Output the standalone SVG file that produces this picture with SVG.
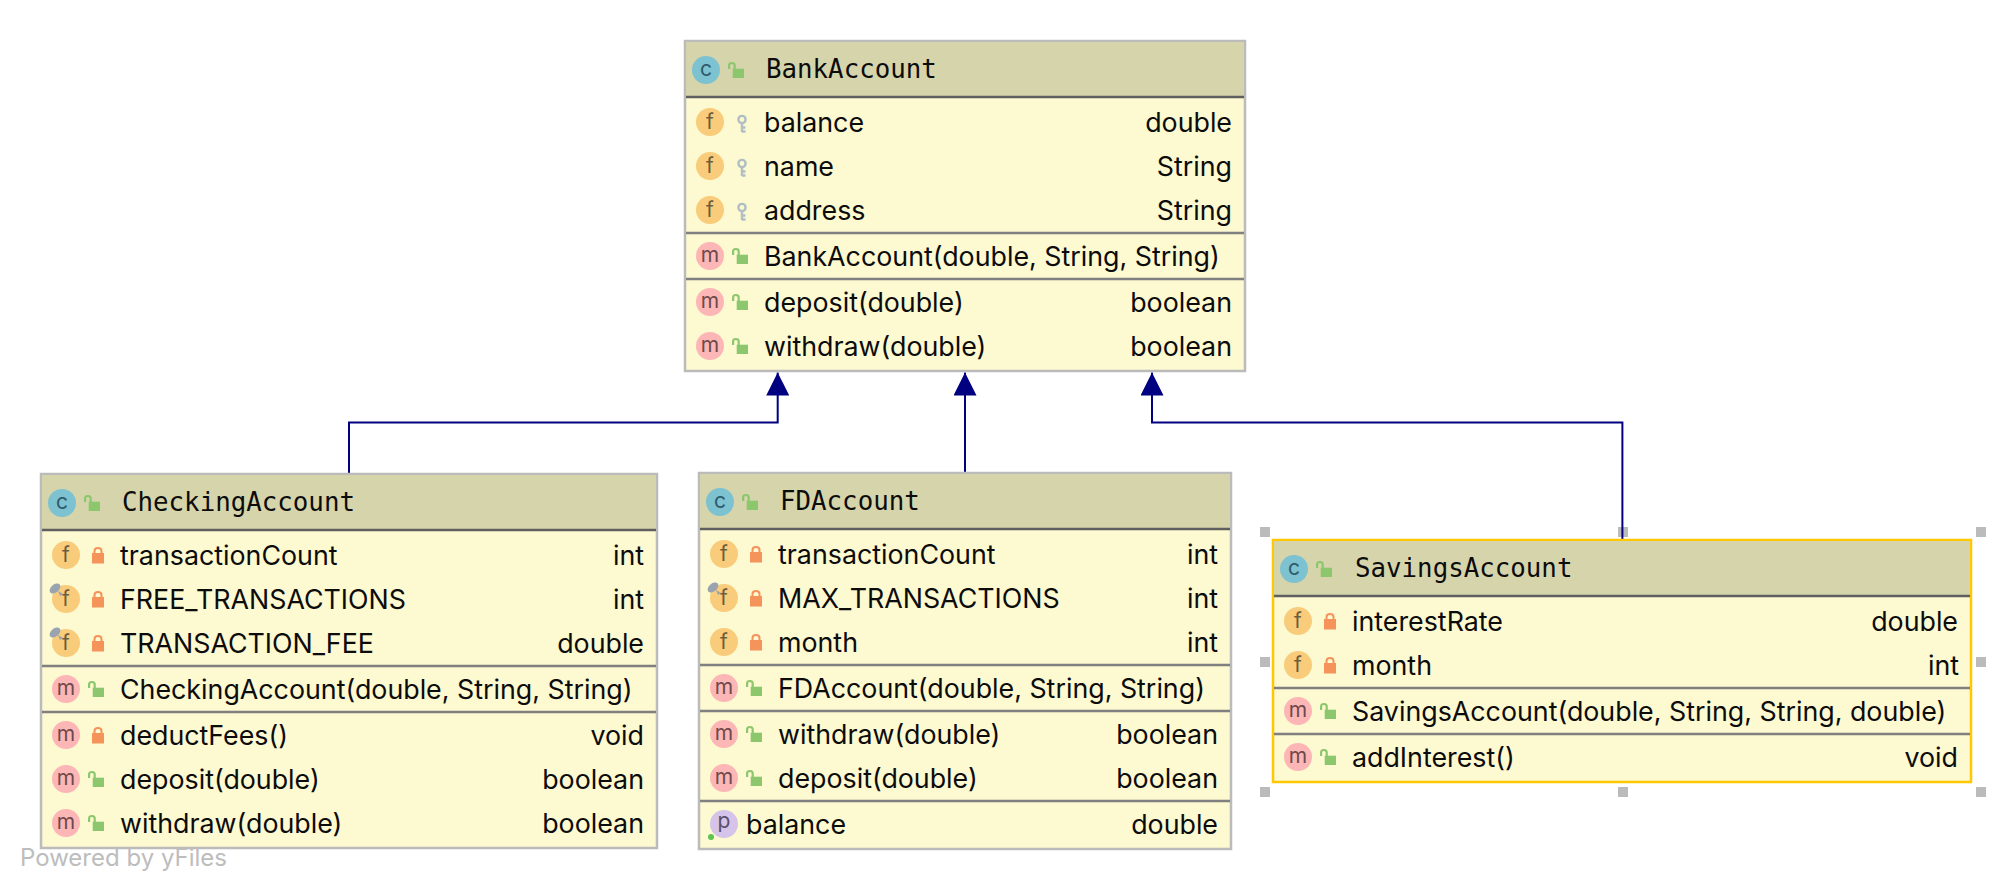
<svg xmlns="http://www.w3.org/2000/svg" width="2012" height="890" viewBox="0 0 2012 890">
<style>
text{font-family:Inter,"Liberation Sans",sans-serif;font-size:26.8px;fill:#0c0c0c}
.t{font-family:"DejaVu Sans Mono","Liberation Mono",monospace;font-size:25.8px}
.r{text-anchor:end}
.w{font-size:24px;fill:#bdbdbd}
.box{fill:#fdf9d1;stroke:#bbbbbb;stroke-width:2.5}
.sel{stroke:#ffc800}
.hd{fill:#d6d4ab}
.d1{stroke:#5f5f5f;stroke-width:2.5}
.d2{stroke:#808080;stroke-width:2.5}
.ic{font-size:21px;text-anchor:middle}
.cc{fill:#2f5a68}
.cf{fill:#6c5d3c}
.cm{fill:#6c4a4d}
.cp{fill:#5b5068}
.edge{fill:none;stroke:#000080;stroke-width:2}
.h{fill:#bbbbbb}
</style>
<defs>
<marker id="tri" markerUnits="userSpaceOnUse" markerWidth="23" markerHeight="23" refX="23" refY="11.5" orient="auto"><path d="M0 0L23 11.500L0 23Z" fill="#000080"/></marker>
<g id="ol"><rect x="4.700" y="6.700" width="11.300" height="9.300" fill="#8cc66d"/><path d="M1.100 7V3.500Q1.100 1 3.900 1T6.700 3.500V7" fill="none" stroke="#8cc66d" stroke-width="2.200"/></g>
<g id="cl"><rect x="-6" y="-2" width="12" height="10.500" fill="#f4935a"/><path d="M-3.500 -2V-4Q-3.500 -7 0 -7T3.500 -4V-2" fill="none" stroke="#f4935a" stroke-width="2"/></g>
<g id="key" fill="none" stroke="#b0bec5" stroke-width="2.400"><circle cx="0" cy="-4.500" r="3.600"/><path d="M0 -1V8M0 3.500H3.500M0 7.500H3.500"/></g>
<circle id="cf" r="14" fill="#f8cc7a"/>
<circle id="cm" r="14" fill="#fdb6b6"/>
<circle id="cc" r="14" fill="#7cc2d0"/>
<g id="pin"><ellipse cx="-11" cy="-10.500" rx="6.200" ry="4" transform="rotate(-40 -11 -10.500)" fill="#9aa4b0"/><path d="M-8 -8L-3 -5L-6 -3Z" fill="#9aa4b0"/></g>
</defs>
<g id="selection-handles">
<rect class="h" x="1260" y="527" width="10" height="10"/><rect class="h" x="1618" y="527" width="10" height="10"/><rect class="h" x="1976" y="527" width="10" height="10"/>
<rect class="h" x="1260" y="657" width="10" height="10"/><rect class="h" x="1976" y="657" width="10" height="10"/>
<rect class="h" x="1260" y="787" width="10" height="10"/><rect class="h" x="1618" y="787" width="10" height="10"/><rect class="h" x="1976" y="787" width="10" height="10"/>
</g>
<g id="connectors">
<path class="edge" marker-end="url(#tri)" d="M349 474V422.500H777.700V372.500"/>
<path class="edge" marker-end="url(#tri)" d="M965 473V372.500"/>
<path class="edge" marker-end="url(#tri)" d="M1622.400 540V422.500H1152V372.500"/>
</g>
<g id="BankAccount">
<rect class="box" x="685" y="41" width="560" height="330"/>
<rect class="hd" x="686" y="42" width="558" height="55"/>
<path class="d1" d="M686 97H1244"/><path class="d2" d="M686 233H1244M686 279H1244"/>
<use href="#cc" x="706" y="70"/><text class="ic cc" x="706" y="76">c</text><use href="#ol" x="728" y="62"/>
<text class="t" x="766" y="78">BankAccount</text>
<use href="#cf" x="710" y="122"/><text class="ic cf" x="710" y="129">f</text><use href="#key" x="742" y="124"/><text x="764" y="132">balance</text><text class="r" x="1232" y="132">double</text>
<use href="#cf" x="710" y="166"/><text class="ic cf" x="710" y="173">f</text><use href="#key" x="742" y="168"/><text x="764" y="176">name</text><text class="r" x="1232" y="176">String</text>
<use href="#cf" x="710" y="210"/><text class="ic cf" x="710" y="217">f</text><use href="#key" x="742" y="212"/><text x="764" y="220">address</text><text class="r" x="1232" y="220">String</text>
<use href="#cm" x="710" y="256"/><text class="ic cm" x="710" y="262">m</text><use href="#ol" x="732" y="248"/><text x="764" y="266">BankAccount(double, String, String)</text>
<use href="#cm" x="710" y="302"/><text class="ic cm" x="710" y="308">m</text><use href="#ol" x="732" y="294"/><text x="764" y="312">deposit(double)</text><text class="r" x="1232" y="312">boolean</text>
<use href="#cm" x="710" y="346"/><text class="ic cm" x="710" y="352">m</text><use href="#ol" x="732" y="338"/><text x="764" y="356">withdraw(double)</text><text class="r" x="1232" y="356">boolean</text>
</g>
<g id="CheckingAccount">
<rect class="box" x="41" y="474" width="616" height="374"/>
<rect class="hd" x="42" y="475" width="614" height="55"/>
<path class="d1" d="M42 530H656"/><path class="d2" d="M42 666H656M42 712H656"/>
<use href="#cc" x="62" y="503"/><text class="ic cc" x="62" y="509">c</text><use href="#ol" x="84" y="495"/>
<text class="t" x="122" y="511">CheckingAccount</text>
<use href="#cf" x="66" y="555"/><text class="ic cf" x="66" y="562">f</text><use href="#cl" x="98" y="555"/><text x="120" y="565">transactionCount</text><text class="r" x="644" y="565">int</text>
<use href="#cf" x="66" y="599"/><text class="ic cf" x="66" y="606">f</text><use href="#pin" x="66" y="599"/><use href="#cl" x="98" y="599"/><text x="120" y="609">FREE_TRANSACTIONS</text><text class="r" x="644" y="609">int</text>
<use href="#cf" x="66" y="643"/><text class="ic cf" x="66" y="650">f</text><use href="#pin" x="66" y="643"/><use href="#cl" x="98" y="643"/><text x="120" y="653">TRANSACTION_FEE</text><text class="r" x="644" y="653">double</text>
<use href="#cm" x="66" y="689"/><text class="ic cm" x="66" y="695">m</text><use href="#ol" x="88" y="681"/><text x="120" y="699">CheckingAccount(double, String, String)</text>
<use href="#cm" x="66" y="735"/><text class="ic cm" x="66" y="741">m</text><use href="#cl" x="98" y="735"/><text x="120" y="745">deductFees()</text><text class="r" x="644" y="745">void</text>
<use href="#cm" x="66" y="779"/><text class="ic cm" x="66" y="785">m</text><use href="#ol" x="88" y="771"/><text x="120" y="789">deposit(double)</text><text class="r" x="644" y="789">boolean</text>
<use href="#cm" x="66" y="823"/><text class="ic cm" x="66" y="829">m</text><use href="#ol" x="88" y="815"/><text x="120" y="833">withdraw(double)</text><text class="r" x="644" y="833">boolean</text>
</g>
<g id="FDAccount">
<rect class="box" x="699" y="473" width="532" height="376"/>
<rect class="hd" x="700" y="474" width="530" height="55"/>
<path class="d1" d="M700 529H1230"/><path class="d2" d="M700 665H1230M700 711H1230M700 801H1230"/>
<use href="#cc" x="720" y="502"/><text class="ic cc" x="720" y="508">c</text><use href="#ol" x="742" y="494"/>
<text class="t" x="780" y="510">FDAccount</text>
<use href="#cf" x="724" y="554"/><text class="ic cf" x="724" y="561">f</text><use href="#cl" x="756" y="554"/><text x="778" y="564">transactionCount</text><text class="r" x="1218" y="564">int</text>
<use href="#cf" x="724" y="598"/><text class="ic cf" x="724" y="605">f</text><use href="#pin" x="724" y="598"/><use href="#cl" x="756" y="598"/><text x="778" y="608">MAX_TRANSACTIONS</text><text class="r" x="1218" y="608">int</text>
<use href="#cf" x="724" y="642"/><text class="ic cf" x="724" y="649">f</text><use href="#cl" x="756" y="642"/><text x="778" y="652">month</text><text class="r" x="1218" y="652">int</text>
<use href="#cm" x="724" y="688"/><text class="ic cm" x="724" y="694">m</text><use href="#ol" x="746" y="680"/><text x="778" y="698">FDAccount(double, String, String)</text>
<use href="#cm" x="724" y="734"/><text class="ic cm" x="724" y="740">m</text><use href="#ol" x="746" y="726"/><text x="778" y="744">withdraw(double)</text><text class="r" x="1218" y="744">boolean</text>
<use href="#cm" x="724" y="778"/><text class="ic cm" x="724" y="784">m</text><use href="#ol" x="746" y="770"/><text x="778" y="788">deposit(double)</text><text class="r" x="1218" y="788">boolean</text>
<circle cx="724" cy="824" r="14" fill="#d5c3ea"/><text class="ic cp" x="724" y="828">p</text><circle cx="711" cy="837" r="3" fill="#5fc34f"/><text x="746" y="834">balance</text><text class="r" x="1218" y="834">double</text>
</g>
<g id="SavingsAccount">
<rect class="box sel" x="1273" y="540" width="698" height="242"/>
<rect class="hd" x="1274" y="541" width="696" height="55"/>
<path class="d1" d="M1274 596H1970"/><path class="d2" d="M1274 688H1970M1274 734H1970"/>
<use href="#cc" x="1294" y="569"/><text class="ic cc" x="1294" y="575">c</text><use href="#ol" x="1316" y="561"/>
<text class="t" x="1355" y="577">SavingsAccount</text>
<use href="#cf" x="1298" y="621"/><text class="ic cf" x="1298" y="628">f</text><use href="#cl" x="1330" y="621"/><text x="1352" y="631">interestRate</text><text class="r" x="1958" y="631">double</text>
<use href="#cf" x="1298" y="665"/><text class="ic cf" x="1298" y="672">f</text><use href="#cl" x="1330" y="665"/><text x="1352" y="675">month</text><text class="r" x="1959" y="675">int</text>
<use href="#cm" x="1298" y="711"/><text class="ic cm" x="1298" y="717">m</text><use href="#ol" x="1320" y="703"/><text x="1352" y="721">SavingsAccount(double, String, String, double)</text>
<use href="#cm" x="1298" y="757"/><text class="ic cm" x="1298" y="763">m</text><use href="#ol" x="1320" y="749"/><text x="1352" y="767">addInterest()</text><text class="r" x="1958" y="767">void</text>
</g>
<text class="w" x="20" y="866">Powered by yFiles</text>
</svg>
